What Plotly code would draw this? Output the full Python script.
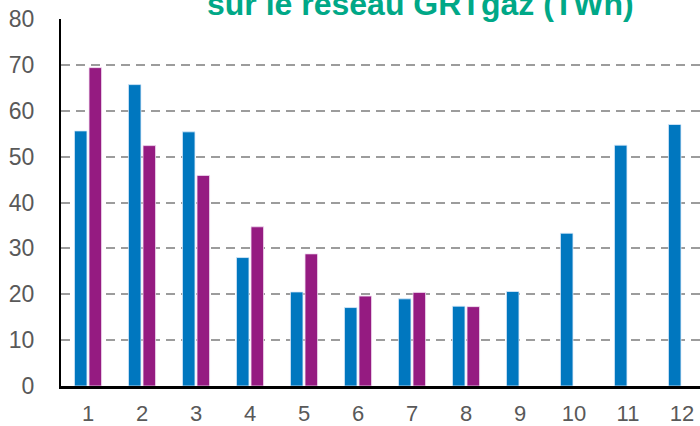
import plotly.graph_objects as go

months = [1, 2, 3, 4, 5, 6, 7, 8, 9, 10, 11, 12]
serie_a = [55.6, 65.7, 55.4, 28.0, 20.5, 17.1, 19.0, 17.4, 20.6, 33.3, 52.5, 57.0]
serie_b = [69.4, 52.4, 45.9, 34.7, 28.8, 19.6, 20.4, 17.3, None, None, None, None]
y_ticks = [0, 10, 20, 30, 40, 50, 60, 70, 80]
title_text = "sur le réseau GRTgaz (TWh)"

fig = go.Figure()
fig.add_trace(go.Bar(x=months, y=serie_a, marker=dict(color="#0077BF", line=dict(color="rgba(220,235,250,0.8)", width=1))))
fig.add_trace(go.Bar(x=months, y=serie_b, marker=dict(color="#951B81", line=dict(color="rgba(240,220,240,0.8)", width=1))))

fig.update_layout(
    width=700, height=426,
    margin=dict(l=61, r=0, t=19, b=40),
    paper_bgcolor="white", plot_bgcolor="white",
    barmode="group", bargap=0.46, bargroupgap=0.14,
    showlegend=False,
    font=dict(family="Liberation Sans, Arial, sans-serif", color="#595959", size=23),
)
fig.update_xaxes(
    range=[0.5, 0.5 + 639 / 54], tickmode="array", tickvals=months,
    ticktext=[str(m) for m in months], tickfont=dict(size=22),
    showline=True, linecolor="black", linewidth=3,
    showgrid=False, zeroline=False, ticks="", ticklabelstandoff=6,
    automargin=False,
)
fig.update_yaxes(
    range=[0, 80], tickmode="array", tickvals=y_ticks,
    showline=True, linecolor="black", linewidth=2,
    showgrid=True, gridcolor="#9c9c9c", gridwidth=2, griddash="9px,6px",
    zeroline=False, ticks="", ticklabelstandoff=20, automargin=False,
)
fig.add_annotation(
    text="<b>" + title_text + "</b>", xref="paper", yref="paper",
    x=(420 - 61) / 639, y=(386 - 3.5) / 367, xanchor="center", yanchor="middle",
    showarrow=False, font=dict(family="Liberation Sans, Arial, sans-serif", size=32, color="#00A887"),
)
fig.write_html("out.html", config={"displayModeBar": False},
               post_script="document.body.style.margin='0';document.body.style.overflow='hidden';")
